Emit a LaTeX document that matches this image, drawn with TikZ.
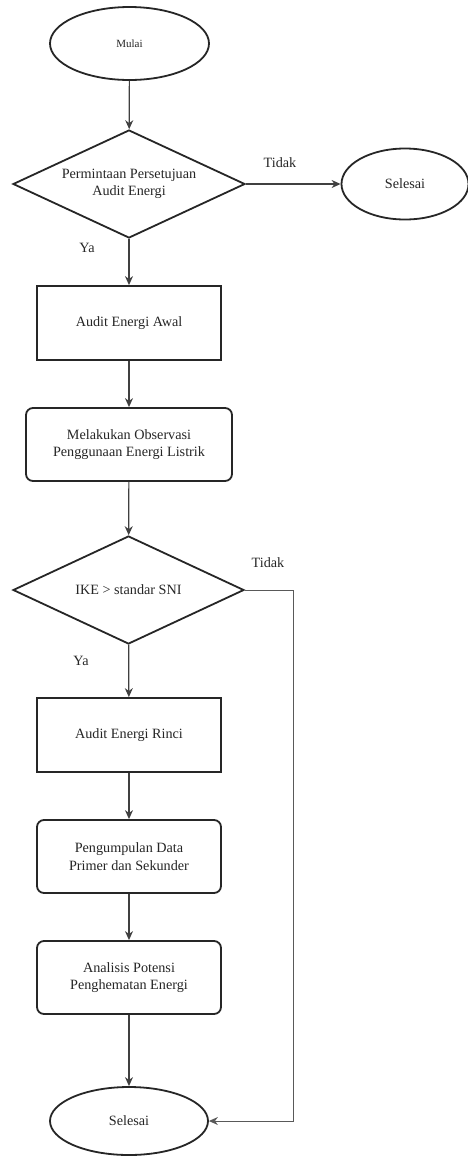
\documentclass[tikz,border=0pt]{standalone}
\usepackage{fontspec}
\setmainfont{Liberation Serif}
\usetikzlibrary{shapes.geometric,arrows.meta}
\begin{document}
\begin{tikzpicture}[x=1pt,y=-1pt,
  every node/.style={font=\fontsize{14.2}{17.5}\selectfont, text=black!85},
  shp/.style={draw=black!85, line width=1.8pt, fill=white, inner sep=0pt, align=center},
  oval/.style={shp, ellipse},
  decide/.style={shp, diamond, aspect=2.15},
  proc/.style={shp, rectangle},
  rproc/.style={shp, rectangle, rounded corners=7pt},
  conn/.style={draw=black!75, line width=1.2pt, -{Stealth[length=9pt,width=8pt]}},
  lbl/.style={inner sep=0pt}
]
\useasboundingbox (0,0) rectangle (467,1157);
\node[oval, minimum width=159pt, minimum height=73pt, font=\fontsize{11}{13}\selectfont] (start) at (129.5,43.5) {Mulai};
\node[decide, minimum width=232pt, minimum height=108pt] (d1) at (129,184) {Permintaan Persetujuan\\Audit Energi};
\node[oval, minimum width=127pt, minimum height=71pt] (end1) at (405,184) {Selesai};
\node[proc, minimum width=184pt, minimum height=74pt] (b1) at (129,323) {Audit Energi Awal};
\node[rproc, minimum width=206pt, minimum height=73pt] (r1) at (129,444.5) {Melakukan Observasi\\Penggunaan Energi Listrik};
\node[decide, minimum width=231pt, minimum height=108pt] (d2) at (128.5,590) {IKE > standar SNI};
\node[proc, minimum width=184pt, minimum height=74pt] (b2) at (129,735) {Audit Energi Rinci};
\node[rproc, minimum width=184pt, minimum height=73pt] (r2) at (129,856.5) {Pengumpulan Data\\Primer dan Sekunder};
\node[rproc, minimum width=184pt, minimum height=73pt] (r3) at (129,977.5) {Analisis Potensi\\Penghematan Energi};
\node[oval, minimum width=158pt, minimum height=68pt] (end2) at (129,1121) {Selesai};

\node[lbl] (t1) at (280,163) {Tidak};
\node[lbl] (y1) at (87,248) {Ya};
\node[lbl] (t2) at (268,563) {Tidak};
\node[lbl] (y2) at (81,661) {Ya};

\coordinate (loop) at (293,1121);

\draw[conn] (start) -- (d1);
\draw[conn] (d1) -- (end1);
\draw[conn] (d1) -- (b1);
\draw[conn] (b1) -- (r1);
\draw[conn] (r1) -- (d2);
\draw[conn] (d2) -- (b2);
\draw[conn] (b2) -- (r2);
\draw[conn] (r2) -- (r3);
\draw[conn] (r3) -- (end2);
\draw[conn, draw=black!65, line width=1pt] (d2.east) -| (loop) -- (end2.east);
\end{tikzpicture}
\end{document}
